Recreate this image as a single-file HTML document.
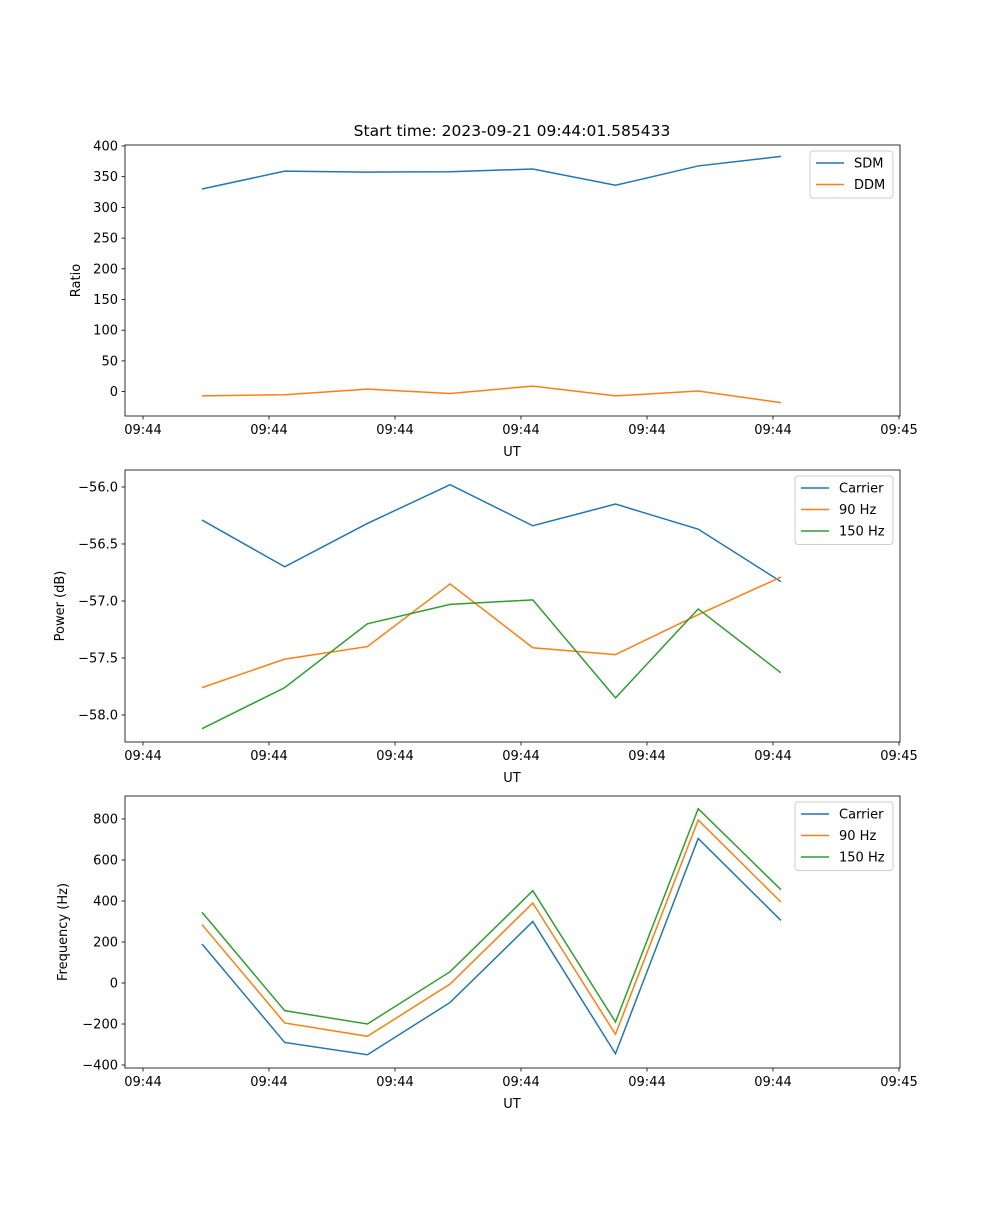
<!DOCTYPE html>
<html><head><meta charset="utf-8"><style>
body{margin:0;background:#fff;}
svg text{font-family:"DejaVu Sans","Liberation Sans",sans-serif;font-size:13px;fill:#000;}
</style></head><body>
<svg id="chart" width="1000" height="1200" xmlns="http://www.w3.org/2000/svg">
<text x="512" y="136" text-anchor="middle" style="font-size:15.5px">Start time: 2023-09-21 09:44:01.585433</text>
</svg>
<script>
const xTickLabels = ["09:44","09:44","09:44","09:44","09:44","09:44","09:45"];
const sdm = [330, 359, 357.5, 358, 362.5, 336, 367.5, 383];
const ddm = [-7, -5, 4, -3, 9, -7, 1, -18];
const powCarrier = [-56.29, -56.70, -56.32, -55.98, -56.34, -56.15, -56.37, -56.83];
const pow90 = [-57.76, -57.51, -57.40, -56.85, -57.41, -57.47, -57.12, -56.79];
const pow150 = [-58.12, -57.76, -57.20, -57.03, -56.99, -57.85, -57.07, -57.63];
const freqCarrier = [190, -290, -350, -95, 300, -345, 705, 305];
const freq90 = [285, -195, -260, -5, 390, -250, 795, 395];
const freq150 = [345, -135, -200, 55, 450, -190, 850, 455];
const ratioTicks = [0,50,100,150,200,250,300,350,400];
const powTicks = [-58.0,-57.5,-57.0,-56.5,-56.0];
const freqTicks = [-400,-200,0,200,400,600,800];

const NS="http://www.w3.org/2000/svg";
const svg=document.getElementById('chart');
function mk(tag,attrs,parent){const e=document.createElementNS(NS,tag);for(const k in attrs)e.setAttribute(k,attrs[k]);(parent||svg).appendChild(e);return e;}
const L=125,R=900;
const x0=202, dx=82.7;
const xs=i=>x0+i*dx;
const xTickPos=i=>143+i*126;
const colors=["#1f77b4","#ff7f0e","#2ca02c"];

function panel(name,top,bot,ymin,ymax,ticks,fmt,ylabel,series,names,leg){
  const g=mk('g',{});
  
  
  const ys=v=>bot-(v-ymin)/(ymax-ymin)*(bot-top);
  series.forEach((s,k)=>{
    const p=mk('polyline',{points:s.map((v,i)=>xs(i)+','+ys(v)).join(' '),fill:'none',stroke:colors[k],'stroke-width':1.5},g);
    
    
  });
  mk('rect',{x:L,y:top,width:R-L,height:bot-top,fill:'none',stroke:'#000','stroke-width':0.8},g);
  ticks.forEach(t=>{
    const y=ys(t);
    mk('line',{x1:L-3.5,x2:L,y1:y,y2:y,stroke:'#000','stroke-width':0.8},g);
    const tx=mk('text',{x:L-7,y:y+4.5,'text-anchor':'end'},g);tx.textContent=fmt(t).replace('-','\u2212');
    
    
  });
  xTickLabels.forEach((l,i)=>{
    const x=xTickPos(i);
    mk('line',{x1:x,x2:x,y1:bot,y2:bot+3.5,stroke:'#000','stroke-width':0.8},g);
    const tx=mk('text',{x:x,y:bot+18,'text-anchor':'middle'},g);tx.textContent=l;
    
    
  });
  const xl=mk('text',{x:512,y:bot+40,'text-anchor':'middle'},g);xl.textContent='UT';
  
  
  const yl=mk('text',{x:0,y:0,'text-anchor':'middle',transform:`translate(${leg.yx},${(top+bot)/2}) rotate(-90)`},g);yl.textContent=ylabel;
  
  
  const lg=mk('g',{},g);
  
  
  mk('rect',{x:leg.x,y:top+6,width:R-7-leg.x,height:names.length*21.5+4,rx:3,fill:'#fff','fill-opacity':0.8,stroke:'#ccc'},lg);
  names.forEach((n,k)=>{
    const y=top+18+k*21.5;
    mk('line',{x1:leg.x+6,x2:leg.x+34,y1:y,y2:y,stroke:colors[k],'stroke-width':1.5},lg);
    const t=mk('text',{x:leg.x+44,y:y+4.5},lg);t.textContent=n;
    
    
  });
}
panel('ratio-panel',145,416,-39.7,401.6,ratioTicks,v=>String(v),'Ratio',[sdm,ddm],['SDM','DDM'],{x:810,yx:80});
panel('power-panel',470,742,-58.237,-55.851,powTicks,v=>v.toFixed(1),'Power (dB)',[powCarrier,pow90,pow150],['Carrier','90 Hz','150 Hz'],{x:795,yx:64});
panel('frequency-panel',796,1068,-414.6,912,freqTicks,v=>String(v),'Frequency (Hz)',[freqCarrier,freq90,freq150],['Carrier','90 Hz','150 Hz'],{x:795,yx:67});
</script>
</body></html>
